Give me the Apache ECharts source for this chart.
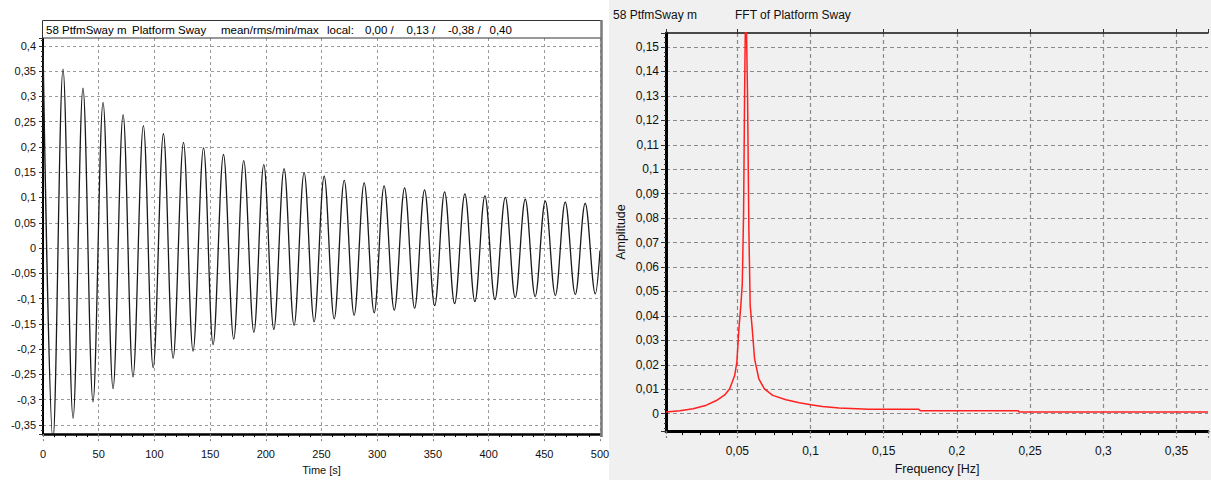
<!DOCTYPE html>
<html>
<head>
<meta charset="utf-8">
<script src="https://cdn.jsdelivr.net/npm/echarts@6/dist/echarts.min.js"></script>
<style>
html,body{margin:0;padding:0;background:#fff;}
#c{width:1211px;height:480px;}
</style>
</head>
<body>
<div id="c"></div>
<script>
// ---- Left chart: Platform Sway time series (extrema) ----
const timeS = [0, 8.95, 17.97, 27.0, 35.9, 44.9, 53.9, 62.9, 71.9, 80.8,
  90.1, 98.9, 108.1, 116.8, 126.1, 134.7, 144.1, 152.7, 162.0, 171.2,
  180.2, 189.3, 198.2, 207.2, 216.4, 225.4, 234.4, 243.4, 252.4, 261.4,
  270.4, 279.3, 288.3, 297.3, 306.2, 315.3, 324.6, 333.6, 342.5, 351.6,
  360.5, 369.5, 378.7, 387.7, 396.7, 405.7, 415.0, 423.9, 432.9, 441.8,
  450.9, 459.9, 468.8, 477.8, 486.7, 495.8, 500];
const swayM = [0.40, -0.38, 0.354, -0.337, 0.316, -0.304, 0.288, -0.278, 0.264, -0.255,
  0.242, -0.237, 0.226, -0.218, 0.209, -0.204, 0.198, -0.191, 0.185, -0.180,
  0.173, -0.167, 0.165, -0.161, 0.157, -0.153, 0.149, -0.146, 0.142, -0.140,
  0.134, -0.133, 0.129, -0.128, 0.123, -0.123, 0.119, -0.119, 0.115, -0.114,
  0.111, -0.110, 0.107, -0.106, 0.103, -0.102, 0.100, -0.098, 0.0965, -0.096,
  0.093, -0.094, 0.091, -0.092, 0.0886, -0.0905, -0.005];

// ---- Right chart: FFT of Platform Sway ----
const freqHz = [0.0013, 0.0108, 0.0198, 0.0289, 0.0357, 0.0414, 0.0448, 0.0482, 0.0497, 0.0511,
  0.0524, 0.0534, 0.0543, 0.0550, 0.0558, 0.0570, 0.0579, 0.0588, 0.0602, 0.0618,
  0.0647, 0.0685, 0.0742, 0.0833, 0.0923, 0.1002, 0.1081, 0.1195, 0.1399, 0.1739,
  0.1750, 0.2420, 0.2425, 0.3715];
const amplitude = [0.0007, 0.0012, 0.0020, 0.0035, 0.0054, 0.0077, 0.0102, 0.0156, 0.0211, 0.0347,
  0.0442, 0.0530, 0.0823, 0.1318, 0.1750, 0.1298, 0.0754, 0.0442, 0.0347, 0.0224,
  0.0143, 0.0102, 0.0075, 0.0057, 0.0045, 0.0037, 0.0030, 0.0023, 0.0018, 0.0018,
  0.0012, 0.0012, 0.0007, 0.0007];

// ---- Header texts ----
const leftHeader = ['58 PtfmSway m', 'Platform Sway', 'mean/rms/min/max', 'local:'];
const headerStats = ['0,00 /', '0,13 /', '-0,38 /', '0,40'];
const rightHeader = ['58 PtfmSway m', 'FFT of Platform Sway'];

const FONT = '"Liberation Sans", Arial, sans-serif';

function commaFmt(step) {
  return function (v) {
    const k = v / step;
    if (Math.abs(k - Math.round(k)) > 1e-6) return '';
    const r = Math.round(v * 10000) / 10000;
    return String(r).replace('.', ',');
  };
}

const headerX = [46, 132, 221, 327, 365, 406.5, 448, 489.5];
const headerTexts = leftHeader.concat(headerStats);
const graphics = [
  { type: 'rect', z: -1, shape: { x: 609, y: 0, width: 602, height: 480 }, style: { fill: '#f0f0f0' }, silent: true },
  { type: 'rect', z: 1, shape: { x: 42.5, y: 20.5, width: 559, height: 17.5 }, style: { fill: '#ffffff', stroke: '#333', lineWidth: 1 }, silent: true },
  { type: 'line', z: 5, shape: { x1: 601.5, y1: 20, x2: 601.5, y2: 437 }, style: { stroke: '#7a7a7a', lineWidth: 2.5 }, silent: true }
];
headerTexts.forEach(function (t, i) {
  graphics.push({ type: 'text', z: 6, x: headerX[i], y: 29.5, silent: true,
    style: { text: t, fill: '#000', font: '11.5px ' + FONT, verticalAlign: 'middle', textVerticalAlign: 'middle' } });
});
const rightHeaderX = [613, 735];
rightHeader.forEach(function (t, i) {
  graphics.push({ type: 'text', z: 6, x: rightHeaderX[i], y: 14.5, silent: true,
    style: { text: t, fill: '#111', font: '12px ' + FONT, verticalAlign: 'middle', textVerticalAlign: 'middle' } });
});

const chart = echarts.init(document.getElementById('c'), null, { renderer: 'svg' });

const option = {
  animation: false,
  backgroundColor: '#ffffff',
  textStyle: { fontFamily: FONT },
  graphic: graphics,
  grid: [
    { left: 43, top: 38, width: 557, height: 398.5, containLabel: false },
    { left: 666, top: 33, right: 0, height: 399.7, containLabel: false }
  ],
  xAxis: [
    {
      gridIndex: 0, type: 'value', min: 0, max: 500, interval: 50, position: 'bottom',
      axisLine: { show: true, onZero: false, lineStyle: { color: '#000', width: 2.5 } },
      axisTick: { show: true, length: 7, lineStyle: { color: '#808080', width: 1, type: [3, 2] } },
      minorTick: { show: true, splitNumber: 5, length: 3, lineStyle: { color: '#000', width: 1 } },
      axisLabel: { show: true, fontSize: 11, color: '#111', margin: 14, fontFamily: FONT },
      splitLine: { show: true, lineStyle: { color: '#9a9a9a', width: 1, type: [3, 3] } },
      name: 'Time [s]', nameLocation: 'middle', nameGap: 26,
      nameTextStyle: { fontSize: 11, color: '#111', fontFamily: FONT }
    },
    {
      gridIndex: 1, type: 'value', min: 0.0013, max: 0.3715, minInterval: 0.05, maxInterval: 0.05, position: 'bottom',
      axisLine: { show: true, onZero: false, lineStyle: { color: '#000', width: 3 } },
      axisTick: { show: true, length: 7, lineStyle: { color: '#808080', width: 1.2, type: [3, 2] } },
      minorTick: { show: true, splitNumber: 4, length: 4, lineStyle: { color: '#000', width: 1 } },
      axisLabel: { show: true, fontSize: 12, color: '#111', margin: 14, fontFamily: FONT, formatter: commaFmt(0.05) },
      splitLine: { show: true, showMinLine: false, showMaxLine: false, lineStyle: { color: '#8a8a8a', width: 1.2, type: [4, 3] } },
      name: 'Frequency [Hz]', nameLocation: 'middle', nameGap: 27,
      nameTextStyle: { fontSize: 12.5, color: '#111', fontFamily: FONT }
    },
    {
      gridIndex: 1, type: 'value', min: 0.0013, max: 0.3715, minInterval: 0.05, maxInterval: 0.05, position: 'top',
      axisLine: { show: true, onZero: false, lineStyle: { color: '#111', width: 1.5 } },
      axisTick: { show: true, length: 4, lineStyle: { color: '#333', width: 1 } },
      minorTick: { show: false },
      axisLabel: { show: false },
      splitLine: { show: false }
    }
  ],
  yAxis: [
    {
      gridIndex: 0, type: 'value', min: -0.368, max: 0.4154, minInterval: 0.05, maxInterval: 0.05,
      axisLine: { show: true, onZero: false, lineStyle: { color: '#000', width: 2 } },
      axisTick: { show: true, length: 4, lineStyle: { color: '#333', width: 1 } },
      minorTick: { show: true, splitNumber: 5, length: 2, lineStyle: { color: '#333', width: 1 } },
      axisLabel: { show: true, fontSize: 11, color: '#111', margin: 7, fontFamily: FONT, formatter: commaFmt(0.05) },
      splitLine: { show: true, showMinLine: false, showMaxLine: false, lineStyle: { color: '#9a9a9a', width: 1, type: [3, 3] } }
    },
    {
      gridIndex: 1, type: 'value', min: -0.0071, max: 0.1557, minInterval: 0.01, maxInterval: 0.01,
      axisLine: { show: true, onZero: false, lineStyle: { color: '#000', width: 3 } },
      axisTick: { show: true, length: 5, lineStyle: { color: '#333', width: 1 } },
      minorTick: { show: true, splitNumber: 5, length: 2, lineStyle: { color: '#333', width: 1 } },
      axisLabel: { show: true, fontSize: 12, color: '#111', margin: 7, fontFamily: FONT, formatter: commaFmt(0.01) },
      splitLine: { show: true, showMinLine: false, showMaxLine: false, lineStyle: { color: '#8a8a8a', width: 1.2, type: [4, 3] } },
      name: 'Amplitude', nameLocation: 'middle', nameGap: 39,
      nameTextStyle: { fontSize: 12.5, color: '#111', fontFamily: FONT }
    }
  ],
  series: [
    {
      type: 'line', xAxisIndex: 0, yAxisIndex: 0,
      data: timeS.map(function (t, i) { return [t, swayM[i]]; }),
      smooth: 0.36, showSymbol: false, symbol: 'none', clip: true,
      lineStyle: { color: '#1a1a1a', width: 1.3 }, z: 3
    },
    {
      type: 'line', xAxisIndex: 1, yAxisIndex: 1,
      data: freqHz.map(function (f, i) { return [f, amplitude[i]]; }),
      smooth: false, showSymbol: false, symbol: 'none', clip: true,
      lineStyle: { color: '#ff2020', width: 1.5 }, z: 3
    }
  ]
};
chart.setOption(option);
</script>
</body>
</html>
